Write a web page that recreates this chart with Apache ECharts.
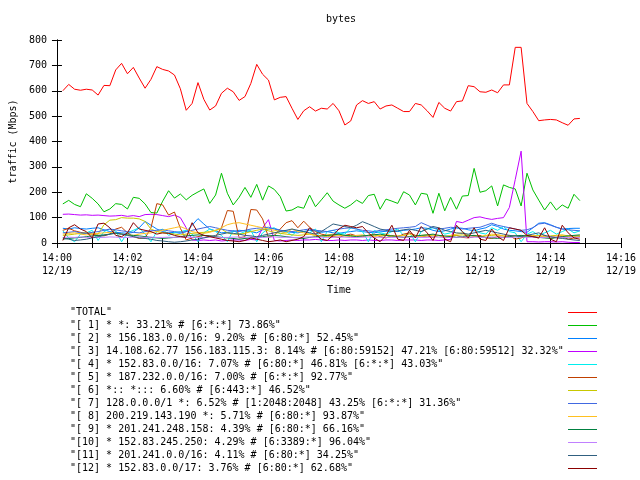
<!DOCTYPE html>
<html>
<head>
<meta charset="utf-8">
<script src="https://cdn.jsdelivr.net/npm/echarts@6/dist/echarts.min.js"></script>
<style>html,body{margin:0;padding:0;background:#fff}#c{width:640px;height:480px}</style>
</head>
<body>
<div id="c"></div>
<script>
// sampling: first sample 14:00:10, one sample every 10 s (x in minutes after 14:00)
const startSec = 10, stepSec = 10;
const xTickLabelsDate = '12/19';

const names = [
  '"TOTAL"',
  '"[ 1] * *: 33.21% # [6:*:*] 73.86%"',
  '"[ 2] * 156.183.0.0/16: 9.20% # [6:80:*] 52.45%"',
  '"[ 3] 14.108.62.77 156.183.115.3: 8.14% # [6:80:59152] 47.21% [6:80:59512] 32.32%"',
  '"[ 4] * 152.83.0.0/16: 7.07% # [6:80:*] 46.81% [6:*:*] 43.03%"',
  '"[ 5] * 187.232.0.0/16: 7.00% # [6:*:*] 92.77%"',
  '"[ 6] *:: *::: 6.60% # [6:443:*] 46.52%"',
  '"[ 7] 128.0.0.0/1 *: 6.52% # [1:2048:2048] 43.25% [6:*:*] 31.36%"',
  '"[ 8] 200.219.143.190 *: 5.71% # [6:80:*] 93.87%"',
  '"[ 9] * 201.241.248.158: 4.39% # [6:80:*] 66.16%"',
  '"[10] * 152.83.245.250: 4.29% # [6:3389:*] 96.04%"',
  '"[11] * 201.241.0.0/16: 4.11% # [6:80:*] 34.25%"',
  '"[12] * 152.83.0.0/17: 3.76% # [6:80:*] 62.68%"'
];
const colors = ['#ff0000','#00c000','#0080ff','#c000ff','#00eeee','#c04000','#c8c800','#4169e1','#ffc020','#008040','#c080ff','#306080','#8b0000'];

const total = [600,625,606,602,606,603,583,621,620,682, 708,667,692,650,610,645,695,684,678,662,
  608,523,550,632,566,524,540,590,610,596, 562,577,629,704,665,642,564,574,577,531,
  487,521,537,520,531,528,550,521,465,481, 544,561,550,557,528,540,544,531,518,518,
  550,544,521,495,554,531,520,557,560,620, 616,596,594,603,592,623,623,771,771,550,
  518,482,485,487,485,474,464,489,491];
const s1 = [154,168,152,143,194,176,154,123,134,155, 152,134,180,176,154,120,118,165,206,177,
  193,170,188,201,213,156,189,275,196,150, 180,219,180,231,169,225,211,183,126,130,
  143,137,189,143,170,198,165,150,137,150, 169,156,187,192,133,173,165,156,202,189,
  150,196,192,117,196,127,180,133,185,187, 294,200,206,225,146,229,219,213,146,275,
  209,169,130,162,130,150,137,192,167];
const s2 = [58,55,60,57,55,58,60,52,45,42, 40,38,42,60,85,70,55,45,40,42,
  38,45,70,96,75,55,48,40,42,45, 50,48,45,40,52,55,58,50,45,42,
  40,45,50,48,42,45,40,38,42,45, 48,45,42,40,44,46,48,45,50,52,
  55,60,58,50,45,48,55,60,58,52, 48,55,60,72,65,55,50,48,45,42,
  60,78,80,72,62,55,57,58,58];
const s3 = [113,114,112,110,111,109,110,108,106,107, 109,105,108,104,112,113,112,108,104,110,
  100,60,12,10,12,10,12,8,10,12, 12,10,14,12,60,92,10,8,10,12,
  10,12,12,14,12,10,10,12,10,12, 12,10,12,10,10,12,12,10,12,12,
  12,10,12,12,10,12,14,85,80,90, 100,103,97,93,97,100,140,250,362,5,
  5,4,5,5,4,5,3,2,2];
const s4 = [48,20,5,35,40,50,10,45,55,48, 5,40,50,60,35,5,45,55,30,40,
  45,50,35,5,40,55,45,30,5,50, 35,45,50,5,40,55,60,35,45,30,
  50,45,40,55,5,45,50,40,35,60, 55,45,5,50,40,35,45,55,30,40,
  5,45,55,60,50,35,40,65,45,30, 55,40,35,60,50,65,45,40,5,35,
  45,30,40,50,35,45,55,40,48];
const s5 = [50,58,48,42,38,35,30,28,35,55, 62,40,25,18,20,60,155,150,110,122,
  58,12,20,25,30,28,25,60,128,125, 20,25,132,130,95,22,30,55,80,88,
  60,86,62,45,35,30,25,22,30,35, 28,25,30,35,25,20,30,25,35,40,
  30,25,28,22,30,20,25,30,22,20, 25,30,20,18,25,22,30,15,20,28,
  25,20,30,18,22,25,15,20,25];
const s6 = [30,32,35,38,40,40,35,72,90,92, 100,98,98,95,85,55,45,40,38,35,
  32,35,38,40,42,45,50,55,40,35, 35,38,45,50,55,48,42,38,35,32,
  30,32,35,30,28,25,30,32,28,30, 25,28,30,32,28,30,25,28,30,25,
  28,30,32,28,30,25,28,30,32,28, 30,25,28,30,32,28,25,30,28,25,
  28,30,25,28,30,32,28,25,28];
const s7 = [40,42,45,40,38,42,45,50,55,52, 48,45,42,40,45,48,50,52,48,45,
  42,45,50,55,60,65,60,55,50,48, 45,50,55,58,60,62,55,50,48,45,
  48,52,55,50,48,45,50,55,58,60, 55,50,48,45,50,52,55,58,60,62,
  65,80,70,60,55,58,62,60,55,58, 60,62,70,78,70,65,60,55,50,52,
  60,75,78,70,62,55,52,50,48];
const s8 = [35,38,40,35,32,35,38,40,42,38, 35,32,30,35,38,40,45,50,55,60,
  65,55,45,40,38,42,50,60,72,78, 80,75,70,65,60,55,50,45,40,55,
  45,40,35,30,28,32,35,30,28,25, 30,32,28,25,30,35,28,25,30,35,
  28,25,30,32,28,25,30,35,40,32, 28,25,30,35,32,28,25,30,28,32,
  30,28,25,22,28,30,25,28,30];
const s9 = [15,18,20,22,25,28,30,32,35,38, 35,32,30,28,25,22,20,18,20,22,
  25,28,30,32,30,28,25,22,20,18, 15,18,20,22,25,28,30,28,25,22,
  20,18,22,25,28,30,32,35,30,28, 25,28,30,32,35,30,28,25,22,25,
  28,30,32,35,30,28,25,22,25,28, 30,25,22,20,18,22,25,28,30,28,
  25,22,20,18,22,25,28,30,32];
const s10 = [22,23,22,24,22,23,22,22,24,23, 22,22,23,24,22,23,22,22,23,22,
  24,22,23,22,22,24,23,22,22,23, 24,22,23,22,22,23,24,22,23,22,
  22,23,24,22,23,22,22,24,23,22, 22,23,24,22,23,22,22,23,24,22,
  23,22,22,24,23,22,22,23,24,22, 23,22,22,24,23,22,22,23,24,22,
  23,22,22,24,23,22,22,23,22];
const s11 = [20,15,10,12,15,20,25,30,35,40, 35,30,25,20,18,15,10,8,5,3,
  5,8,12,15,20,25,30,35,40,38, 35,30,28,25,30,35,40,45,50,55,
  50,45,40,35,45,60,75,70,65,60, 70,84,75,65,55,50,45,48,52,55,
  50,45,55,65,60,50,45,40,38,35, 40,45,50,45,40,35,30,28,25,30,
  35,40,30,25,20,18,15,12,10];
const s12 = [10,60,72,55,45,20,75,78,60,30, 25,40,80,55,50,45,35,40,38,30,
  25,22,80,40,30,25,20,15,10,8, 5,10,20,15,10,5,8,12,5,10,
  15,25,60,35,15,10,30,55,70,65, 60,65,40,20,5,30,70,15,10,50,
  20,65,40,10,60,15,5,70,45,20, 60,15,10,55,25,10,60,55,50,30,
  25,20,60,15,5,70,40,20,15];

const values = [total,s1,s2,s3,s4,s5,s6,s7,s8,s9,s10,s11,s12];
const FONT = 'DejaVu Sans Mono';

function pts(arr){ return arr.map((v,k)=>[(startSec + stepSec*k)/60, v]); }

const series = values.map((arr,idx)=>({
  name: names[idx], type:'line', data: pts(arr), symbol:'none', showSymbol:false,
  lineStyle:{color: colors[idx], width:1}, itemStyle:{color: colors[idx]},
  animation:false, xAxisIndex:0, yAxisIndex:0
}));

function fmtX(v){
  if (Math.round(v) % 2 !== 0) return '';
  const m = Math.round(v);
  return '14:' + (m<10?'0':'') + m + '\n' + xTickLabelsDate;
}

const chart = echarts.init(document.getElementById('c'), null, {renderer:'canvas'});
chart.setOption({
  animation:false,
  backgroundColor:'#fff',
  textStyle:{fontFamily:FONT},
  title:{text:'bytes', left:336, top:9, textAlign:'center',
    textStyle:{fontFamily:FONT, fontSize:10, fontWeight:'normal', color:'#000'}},
  grid:{left:52, right:19, top:40, bottom:237, containLabel:false},
  legend:{
    orient:'vertical', left:70, top:306, align:'right', itemGap:0,
    itemWidth:29, itemHeight:1, padding:0,
    icon:'rect',
    formatter:'{a|{name}}',
    textStyle:{fontFamily:FONT, fontSize:10, color:'#000', lineHeight:13,
      rich:{a:{width:493, height:13, align:'left', fontFamily:FONT, fontSize:10, lineHeight:13, color:'#000'}}},
    data: names
  },
  xAxis:[{
    type:'value', min:0, max:16, interval:1, position:'bottom',
    name:'Time', nameLocation:'middle', nameGap:42,
    nameTextStyle:{fontFamily:FONT, fontSize:10, color:'#000'},
    axisLine:{show:true, lineStyle:{color:'#000', width:1}},
    axisTick:{show:true, inside:true, length:5, lineStyle:{color:'#000'}},
    axisLabel:{formatter:fmtX, fontFamily:FONT, fontSize:10, color:'#000', margin:9, lineHeight:13},
    splitLine:{show:false}
  },{
    type:'value', min:0, max:16, interval:1, position:'top',
    axisLine:{show:true, lineStyle:{color:'#000', width:1}},
    axisTick:{show:true, inside:true, length:5, lineStyle:{color:'#000'}},
    axisLabel:{show:false}, splitLine:{show:false}
  }],
  yAxis:[{
    type:'value', min:0, max:800, interval:100, position:'left',
    name:'traffic (Mbps)', nameLocation:'middle', nameGap:38, nameRotate:90,
    nameTextStyle:{fontFamily:FONT, fontSize:10, color:'#000'},
    axisLine:{show:true, lineStyle:{color:'#000', width:1}},
    axisTick:{show:true, inside:true, length:5, lineStyle:{color:'#000'}},
    axisLabel:{fontFamily:FONT, fontSize:10, color:'#000', margin:10},
    splitLine:{show:false}
  },{
    type:'value', min:0, max:800, interval:100, position:'right',
    axisLine:{show:true, lineStyle:{color:'#000', width:1}},
    axisTick:{show:true, inside:true, length:5, lineStyle:{color:'#000'}},
    axisLabel:{show:false}, splitLine:{show:false}
  }],
  series: series
});
</script>
</body>
</html>
